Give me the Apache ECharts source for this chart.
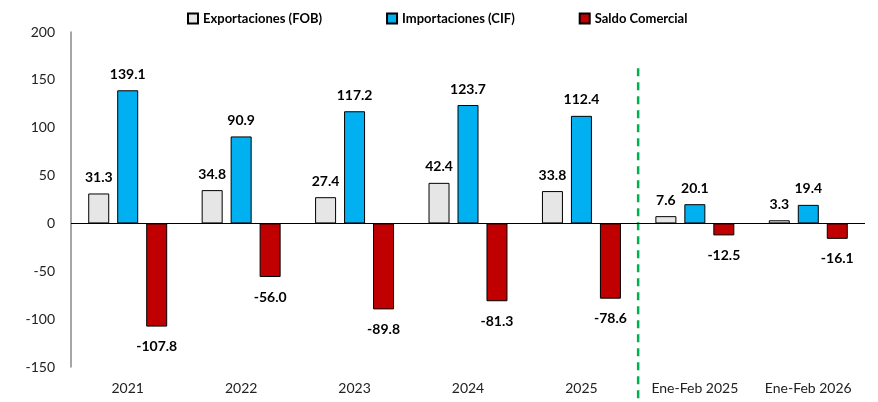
<!DOCTYPE html>
<html>
<head>
<meta charset="utf-8">
<script src="https://cdn.jsdelivr.net/npm/echarts@6/dist/echarts.min.js"></script>
<style>
  html, body { margin: 0; padding: 0; background: #fff; }
  #chart { width: 878px; height: 402px; }
</style>
</head>
<body>
<div id="chart"></div>
<script>
const categories = ['2021', '2022', '2023', '2024', '2025', 'Ene-Feb 2025', 'Ene-Feb 2026']
const exportaciones = [31.3, 34.8, 27.4, 42.4, 33.8, 7.6, 3.3]
const importaciones = [139.1, 90.9, 117.2, 123.7, 112.4, 20.1, 19.4]
const saldo = [-107.8, -56.0, -89.8, -81.3, -78.6, -12.5, -16.1]
const yTicks = { min: -150, max: 200, interval: 50 }
// separator between annual and Jan-Feb groups (category boundary)
const separatorAt = 5
const separatorSpan = [162, -184]

const font = 'Lato, "Liberation Sans", sans-serif'

const barLabel = {
  show: true,
  fontFamily: font,
  fontWeight: 'bold',
  fontSize: 14,
  color: '#000',
  formatter: p => p.value.toFixed(1)
}

const makeBar = (name, data, color) => ({
  name,
  type: 'bar',
  data,
  barWidth: 21,
  barGap: '38%',
  itemStyle: { color, borderColor: '#000', borderWidth: 1 },
  label: { ...barLabel, position: data[0] < 0 ? 'bottom' : 'top', distance: data[0] < 0 ? 13 : 9 }
})

const chart = echarts.init(document.getElementById('chart'))

chart.setOption({
  animation: false,
  textStyle: { fontFamily: font },
  legend: {
    top: 7,
    left: 182,
    itemWidth: 10,
    itemHeight: 10,
    itemGap: 64,
    icon: 'rect',
    textStyle: { fontFamily: font, fontWeight: 'bold', fontSize: 13, color: '#000' },
    data: ['Exportaciones (FOB)', 'Importaciones (CIF)', 'Saldo Comercial']
  },
  grid: { left: 71, right: 13, top: 32, bottom: 35 },
  xAxis: [
    {
      type: 'category',
      data: categories,
      axisLine: { show: false, onZero: false },
      axisTick: { show: false },
      axisLabel: { fontFamily: font, fontSize: 14, color: '#222', margin: 14 }
    },
    {
      type: 'value',
      min: 0,
      max: categories.length,
      show: false
    }
  ],
  yAxis: {
    type: 'value',
    ...yTicks,
    axisLine: { show: true, onZero: false, lineStyle: { color: '#888', width: 1.5 } },
    axisTick: { show: false },
    splitLine: { show: false },
    axisLabel: { fontFamily: font, fontSize: 14, color: '#222', margin: 16 }
  },
  series: [
    makeBar('Exportaciones (FOB)', exportaciones, '#e6e6e6'),
    makeBar('Importaciones (CIF)', importaciones, '#00b0f0'),
    {
      ...makeBar('Saldo Comercial', saldo, '#c00000'),
      markLine: {
        silent: true,
        symbol: 'none',
        label: { show: false },
        lineStyle: { color: '#000', type: 'solid', width: 1.2 },
        data: [{ yAxis: 0 }]
      }
    },
    {
      type: 'line',
      xAxisIndex: 1,
      clip: false,
      silent: true,
      symbol: 'none',
      data: separatorSpan.map(v => [separatorAt, v]),
      lineStyle: { color: '#00b050', width: 2.5, type: [8, 6] },
      z: 1
    }
  ]
})
</script>
</body>
</html>
